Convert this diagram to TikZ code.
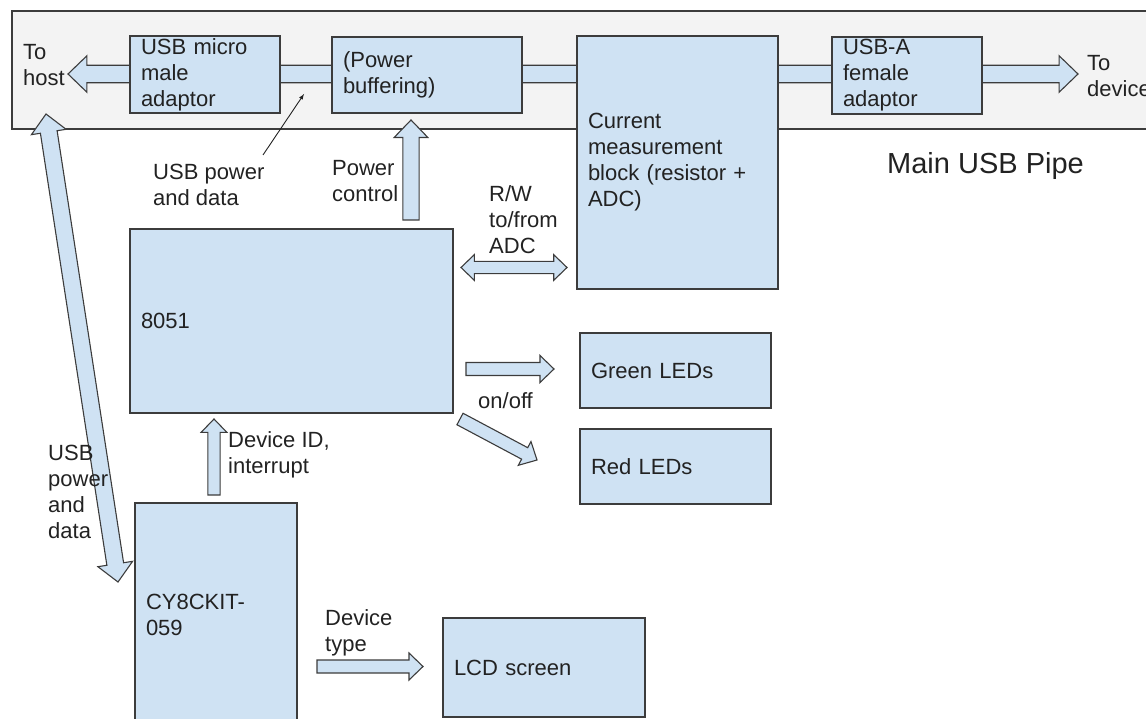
\documentclass[tikz,border=0pt]{standalone}
\usepackage{fontspec}
\setmainfont{Liberation Sans}
\usepackage{tikz}
\usetikzlibrary{arrows,calc}
\definecolor{boxblue}{HTML}{CFE2F3}
\definecolor{pipegray}{HTML}{F3F3F3}
\definecolor{edge}{HTML}{3C3C3C}
\definecolor{ink}{HTML}{222222}

% block arrow from #2 to #3, #1 scales shaft and head
\newcommand{\fatarrow}[3][1]{%
  \coordinate (fa-h) at ($(#3)!#1*14pt!(#2)$);
  \filldraw[barrow]
    ($(#2)!#1*6.5pt!90:(#3)$) -- ($(fa-h)!#1*6.5pt!90:(#3)$) --
    ($(fa-h)!#1*13.5pt!90:(#3)$) -- (#3) --
    ($(fa-h)!#1*13.5pt!-90:(#3)$) -- ($(fa-h)!#1*6.5pt!-90:(#3)$) --
    ($(#2)!#1*6.5pt!-90:(#3)$) -- cycle;
}
% same, with a head at both ends
\newcommand{\fatdarrow}[3][1]{%
  \coordinate (fa-a) at ($(#2)!#1*14pt!(#3)$);
  \coordinate (fa-b) at ($(#3)!#1*14pt!(#2)$);
  \filldraw[barrow] (#2) --
    ($(fa-a)!#1*13.5pt!90:(#3)$) -- ($(fa-a)!#1*6.5pt!90:(#3)$) --
    ($(fa-b)!#1*6.5pt!90:(#3)$) -- ($(fa-b)!#1*13.5pt!90:(#3)$) -- (#3) --
    ($(fa-b)!#1*13.5pt!-90:(#3)$) -- ($(fa-b)!#1*6.5pt!-90:(#3)$) --
    ($(fa-a)!#1*6.5pt!-90:(#3)$) -- ($(fa-a)!#1*13.5pt!-90:(#3)$) -- cycle;
}

\begin{document}
\begin{tikzpicture}[x=1pt, y=-1pt,
    font=\fontsize{22}{26}\selectfont, text=ink,
    blk/.style={draw=edge, fill=boxblue, line width=1.2pt, inner xsep=11pt,
      inner ysep=2pt, align=left},
    lbl/.style={align=left, inner sep=0pt, anchor=north west},
    barrow/.style={draw=edge, fill=boxblue, line width=1.1pt},
    band/.style={draw=edge, fill=pipegray, line width=1.2pt}]
  \useasboundingbox (0,0) rectangle (1146,719);
  \clip (0,0) rectangle (1146,719);

  % main usb pipe
  \draw[band] (12,11) rectangle (1170,129);
  \coordinate (hostend) at (68,74);
  \coordinate (devend) at (1078,74);
  \fatdarrow[1.35]{hostend}{devend}

  \node[blk, text width=128pt, minimum height=77pt] (umic) at (205,74.5) {USB micro\\male\\adaptor};
  \node[blk, text width=168pt, minimum height=76pt] (pbuf) at (427,75) {(Power\\buffering)};
  \node[blk, text width=179pt, minimum height=253pt] (cur) at (677.5,162.5) {Current\\measurement\\block (resistor +\\ADC)};
  \node[blk, text width=128pt, minimum height=77pt] (usba) at (907,75.5) {USB-A\\female\\adaptor};

  \node[lbl] (tohost) at (23,44) {To\\host};
  \node[lbl] (todev) at (1087,55) {To\\device};
  \node[lbl, font=\fontsize{29}{34}\selectfont] (pipename) at (887,152.5) {Main USB Pipe};

  % controller side
  \node[blk, text width=301pt, minimum height=184pt] (mcu) at (291.5,321) {8051};
  \node[blk, text width=169pt, minimum height=75pt] (grn) at (675.5,370.5) {Green LEDs};
  \node[blk, text width=169pt, minimum height=75pt] (red) at (675.5,466.5) {Red LEDs};
  \node[blk, text width=140pt, minimum height=224pt] (cyk) at (216,615) {CY8CKIT-\\059};
  \node[blk, text width=180pt, minimum height=99pt] (lcd) at (544,667.5) {LCD screen};

  % usb tap from the pipe
  \node[lbl] (tapnote) at (153,164) {USB power\\and data};
  \coordinate (tapfoot) at (263,155);
  \coordinate (tappipe) at (304,94);
  \draw[->, >=latex, ink, line width=0.9pt] (tapfoot) -- (tappipe);

  \coordinate (pc1) at (411,220);
  \coordinate (pc2) at (411,120);
  \fatarrow[1.25]{pc1}{pc2}
  \node[lbl] (pcnote) at (332,160) {Power\\control};

  \coordinate (rw1) at (461,267.5);
  \coordinate (rw2) at (567,267.5);
  \fatdarrow[0.95]{rw1}{rw2}
  \node[lbl] (rwnote) at (489,185) {R/W\\to/from\\ADC};

  \coordinate (led1) at (466,369);
  \coordinate (led2) at (554,369);
  \fatarrow{led1}{led2}
  \coordinate (led3) at (460,419);
  \coordinate (led4) at (537,460);
  \fatarrow{led3}{led4}
  \node[lbl] (ledsnote) at (478,392) {on/off};

  \coordinate (id1) at (214,495);
  \coordinate (id2) at (214,419);
  \fatarrow[0.95]{id1}{id2}
  \node[lbl] (idnote) at (228,431) {Device ID,\\interrupt};

  \coordinate (dt1) at (317,666.5);
  \coordinate (dt2) at (423,666.5);
  \fatarrow{dt1}{dt2}
  \node[lbl] (dtnote) at (325,609) {Device\\type};

  % usb link from host side down to the kit
  \coordinate (uk1) at (46,114);
  \coordinate (uk2) at (118,582);
  \fatdarrow[1.3]{uk1}{uk2}
  \node[lbl] (uknote) at (48,445) {USB\\power\\and\\data};
\end{tikzpicture}
\end{document}
